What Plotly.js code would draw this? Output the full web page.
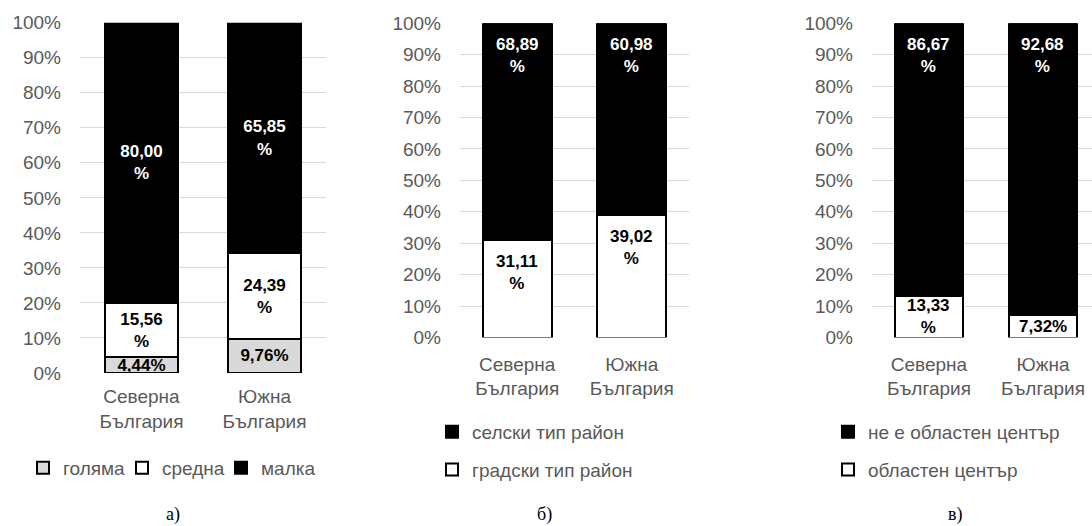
<!DOCTYPE html>
<html>
<head>
<meta charset="utf-8">
<script src="https://cdn.plot.ly/plotly-3.0.1.min.js"></script>
<style>html,body{margin:0;padding:0;background:#fff;}#chart{width:1092px;height:526px;}</style>
</head>
<body>
<div id="chart"></div>
<script>
// Categories
const regions = ['Северна<br>България', 'Южна<br>България'];

// Panel а) – size
const sizeLabels = ['голяма', 'средна', 'малка'];
const golyama = [4.44, 9.76];
const sredna = [15.56, 24.39];
const malka = [80.00, 65.85];

// Panel б) – type of district
const typeLabels = ['градски тип район', 'селски тип район'];
const gradski = [31.11, 39.02];
const selski = [68.89, 60.98];

// Panel в) – regional centre
const centreLabels = ['областен център', 'не е областен център'];
const oblasten = [13.33, 7.32];
const neOblasten = [86.67, 92.68];

// Panel captions
const panelCaptions = ['а)', 'б)', 'в)'];

function fmtOne(v) {
  const s = v.toFixed(2).replace('.', ',');
  return v >= 10 ? s + '<br>%' : s + '%';
}
function fmt(arr) { return arr.map(fmtOne); }

const FONT = 'Liberation Sans, Arial, sans-serif';
const GRAY = '#595959';

function bar(x, y, name, fill, textColor, xa, ya, legend, group, rank, withText) {
  return {
    type: 'bar', x: x, y: y, name: name,
    xaxis: xa, yaxis: ya, legend: legend, legendgroup: group, legendrank: rank,
    marker: {color: fill, line: {color: '#000', width: 2}},
    text: withText ? fmt(y) : null, textposition: withText ? 'inside' : 'none',
    insidetextanchor: 'middle',
    constraintext: 'none', textangle: 0,
    textfont: {family: FONT, size: 17, color: textColor, weight: 'bold'},
    hoverinfo: 'skip', width: 0.6
  };
}

const data = [
  bar(regions, golyama, sizeLabels[0], '#d9d9d9', '#000', 'x', 'y', 'legend', 'a1', 1, true),
  bar(regions, sredna, sizeLabels[1], '#ffffff', '#000', 'x', 'y', 'legend', 'a2', 2, true),
  bar(regions, malka, sizeLabels[2], '#000000', '#fff', 'x', 'y', 'legend', 'a3', 3, true),
  bar(regions, gradski, typeLabels[0], '#ffffff', '#000', 'x2', 'y2', 'legend2', 'b1', 2, false),
  bar(regions, selski, typeLabels[1], '#000000', '#fff', 'x2', 'y2', 'legend2', 'b2', 1, false),
  bar(regions, oblasten, centreLabels[0], '#ffffff', '#000', 'x3', 'y3', 'legend3', 'c1', 2, false),
  bar(regions, neOblasten, centreLabels[1], '#000000', '#fff', 'x3', 'y3', 'legend3', 'c2', 1, false)
];

// "Inside end" labels for panels б) and в): anchored at the top of each segment,
// centred in the segment when the segment is too short for the two-line label.
function endLabels(bottom, top, xa, ya) {
  const anns = [];
  const segs = [[bottom, 0, '#000'], [top, 1, '#fff']];
  segs.forEach(([vals, lvl, color]) => {
    vals.forEach((v, i) => {
      const base = lvl === 0 ? 0 : bottom[i];
      const small = v < 17;
      anns.push({
        x: regions[i], y: small ? base + v / 2 : base + v, xref: xa, yref: ya,
        text: fmtOne(v), showarrow: false, xanchor: 'center',
        yanchor: small ? 'middle' : 'top', yshift: small ? 0 : -10,
        font: {family: FONT, size: 17, color: color, weight: 'bold'}
      });
    });
  });
  return anns;
}

function yax(domain) {
  return {
    domain: domain, range: [0, 100], dtick: 10, tick0: 0, ticksuffix: '%',
    showgrid: true, gridcolor: '#d9d9d9', gridwidth: 1, zeroline: false,
    showline: false, ticks: '', ticklabelstandoff: 18,
    tickfont: {family: FONT, size: 19, color: GRAY}, fixedrange: true
  };
}
function xax(domain, range, anchor, standoff) {
  return {
    domain: domain, range: range, anchor: anchor, type: 'category',
    showgrid: false, zeroline: false, showline: false, ticks: '',
    ticklabelstandoff: standoff,
    tickfont: {family: FONT, size: 19, color: GRAY}, fixedrange: true
  };
}

const W = 1092, H = 526;
const legFont = {family: FONT, size: 19, color: GRAY};

const captionAnns = panelCaptions.map((t, i) => ({
  text: t, xref: 'paper', yref: 'paper',
  x: [173, 544, 955][i] / W, y: 1 - 514 / H, xanchor: 'center', yanchor: 'middle',
  showarrow: false, font: {family: 'Liberation Serif, Times New Roman, serif', size: 18, color: '#000'}
}));

const layout = {
  width: W, height: H,
  margin: {l: 0, r: 0, t: 0, b: 0, autoexpand: false},
  paper_bgcolor: '#fff', plot_bgcolor: 'rgba(0,0,0,0)',
  barmode: 'stack', showlegend: true,
  font: {family: FONT},
  xaxis: xax([80 / W, 326 / W], [-0.5, 1.5], 'y', 10),
  yaxis: yax([1 - 373 / H, 1 - 22.7 / H]),
  xaxis2: xax([460 / W, 689 / W], [-0.5, 1.5], 'y2', 13),
  yaxis2: Object.assign(yax([1 - 337.5 / H, 1 - 23.3 / H]), {anchor: 'x2'}),
  xaxis3: xax([872 / W, 1], [-0.5, 1.43], 'y3', 13),
  yaxis3: Object.assign(yax([1 - 337.5 / H, 1 - 23.3 / H]), {anchor: 'x3'}),
  legend: {
    orientation: 'h', x: 23 / W, xanchor: 'left', y: 1 - 449 / H, yanchor: 'top',
    traceorder: 'normal', font: legFont, bgcolor: 'rgba(0,0,0,0)',
    entrywidth: 54, entrywidthmode: 'pixels'
  },
  legend2: {
    orientation: 'v', x: 432 / W, xanchor: 'left', y: 1 - 413 / H, yanchor: 'top',
    traceorder: 'grouped', tracegroupgap: 10, font: legFont, bgcolor: 'rgba(0,0,0,0)'
  },
  legend3: {
    orientation: 'v', x: 828 / W, xanchor: 'left', y: 1 - 413 / H, yanchor: 'top',
    traceorder: 'grouped', tracegroupgap: 10, font: legFont, bgcolor: 'rgba(0,0,0,0)'
  },
  annotations: captionAnns
    .concat(endLabels(gradski, selski, 'x2', 'y2'))
    .concat(endLabels(oblasten, neOblasten, 'x3', 'y3'))
};

Plotly.newPlot('chart', data, layout, {displayModeBar: false, staticPlot: true});
</script>
</body>
</html>
